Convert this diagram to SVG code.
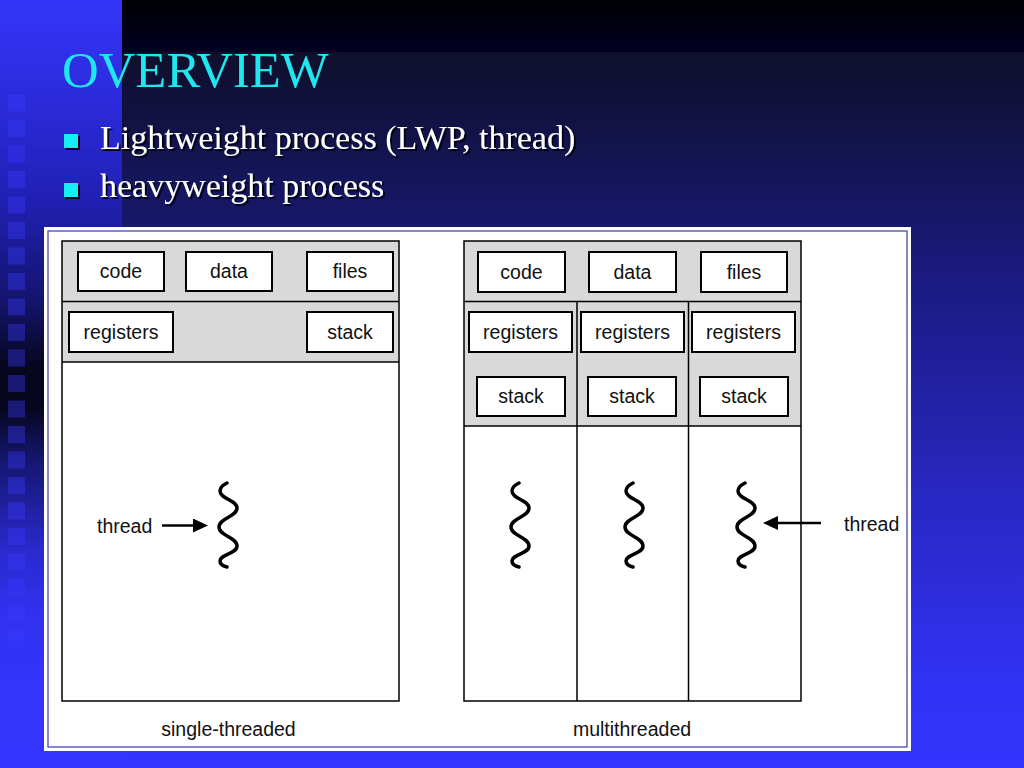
<svg xmlns="http://www.w3.org/2000/svg" width="1024" height="768" viewBox="0 0 1024 768">
<defs>
  <linearGradient id="bgR" x1="0" y1="0" x2="0" y2="768" gradientUnits="userSpaceOnUse">
    <stop offset="0" stop-color="#000006"/>
    <stop offset="0.0677" stop-color="#000022"/>
    <stop offset="0.0677" stop-color="#0f0f2c"/>
    <stop offset="0.16" stop-color="#121244"/>
    <stop offset="0.38" stop-color="#1b1b86"/>
    <stop offset="0.65" stop-color="#2828c4"/>
    <stop offset="0.9" stop-color="#3232f6"/>
    <stop offset="1" stop-color="#3434ff"/>
  </linearGradient>
  <linearGradient id="bgL" x1="0" y1="0" x2="0" y2="768" gradientUnits="userSpaceOnUse">
    <stop offset="0" stop-color="#3535f8"/>
    <stop offset="0.13" stop-color="#2b2bdc"/>
    <stop offset="0.26" stop-color="#2020b4"/>
    <stop offset="0.39" stop-color="#14146e"/>
    <stop offset="0.48" stop-color="#06061c"/>
    <stop offset="0.53" stop-color="#06061e"/>
    <stop offset="0.6" stop-color="#161670"/>
    <stop offset="0.66" stop-color="#2020a0"/>
    <stop offset="0.72" stop-color="#2a2ad0"/>
    <stop offset="0.8" stop-color="#3131ee"/>
    <stop offset="0.9" stop-color="#3434fc"/>
    <stop offset="1" stop-color="#3535ff"/>
  </linearGradient>
  <filter id="sh" x="-5%" y="-30%" width="115%" height="170%">
    <feDropShadow dx="2" dy="2" stdDeviation="0.6" flood-color="#000010" flood-opacity="0.9"/>
  </filter>
  <marker id="ah" markerUnits="userSpaceOnUse" markerWidth="16" markerHeight="15" refX="11" refY="7" orient="auto">
    <path d="M0,0 L15,7 L0,14 Z" fill="#000"/>
  </marker>
  <path id="wave" d="M-1,0 C-5,2 -8,5 -8,8 C-8,16 9,17 9,25 C9,34 -9,35 -9,44 C-9,53 9,54 9,63 C9,71 -8,71 -8,78 C-8,81 -5,83 -1,84"/>
  <rect id="sqr" width="17" height="17"/>
  <style>
    .box { fill:#fff; stroke:#000; stroke-width:2; }
    .band { fill:#d9d9d9; }
    .frame { fill:none; stroke:#000; stroke-width:1.5; }
    .ln { stroke:#000; stroke-width:1.5; fill:none; }
    .lbl { font-family:"Liberation Sans", Arial, Helvetica, sans-serif; font-size:19.5px; fill:#111; text-anchor:middle; }
    .free { font-family:"Liberation Sans", Arial, Helvetica, sans-serif; font-size:19.5px; fill:#111; }
    .wv { fill:none; stroke:#000; stroke-width:3.5; stroke-linecap:round; stroke-linejoin:round; }
    .conn { stroke:#000; stroke-width:2.5; fill:none; marker-end:url(#ah); }
    .bul { font-family:"Liberation Serif", "Times New Roman", serif; font-size:34px; fill:#fff; }
    .bsq { fill:#16eef6; }
    .lsq { fill:#3a3aff; opacity:0.38; }
  </style>
</defs>

<!-- background -->
<g id="background">
  <rect x="0" y="0" width="1024" height="768" fill="url(#bgR)"/>
  <rect x="0" y="0" width="122" height="768" fill="url(#bgL)"/>
  <g id="strip-squares">
    <use href="#sqr" class="lsq" x="8" y="94.5"/>
    <use href="#sqr" class="lsq" x="8" y="120"/>
    <use href="#sqr" class="lsq" x="8" y="145.5"/>
    <use href="#sqr" class="lsq" x="8" y="171"/>
    <use href="#sqr" class="lsq" x="8" y="196.5"/>
    <use href="#sqr" class="lsq" x="8" y="222"/>
    <use href="#sqr" class="lsq" x="8" y="247.5"/>
    <use href="#sqr" class="lsq" x="8" y="273"/>
    <use href="#sqr" class="lsq" x="8" y="298.5"/>
    <use href="#sqr" class="lsq" x="8" y="324"/>
    <use href="#sqr" class="lsq" x="8" y="349.5"/>
    <use href="#sqr" class="lsq" x="8" y="375"/>
    <use href="#sqr" class="lsq" x="8" y="400.5"/>
    <use href="#sqr" class="lsq" x="8" y="426"/>
    <use href="#sqr" class="lsq" x="8" y="451.5"/>
    <use href="#sqr" class="lsq" x="8" y="477"/>
    <use href="#sqr" class="lsq" x="8" y="502.5"/>
    <use href="#sqr" class="lsq" x="8" y="528"/>
    <use href="#sqr" class="lsq" x="8" y="553.5"/>
    <use href="#sqr" class="lsq" x="8" y="579"/>
    <use href="#sqr" class="lsq" x="8" y="604.5"/>
    <use href="#sqr" class="lsq" x="8" y="630"/>
  </g>
</g>

<!-- title and bullets -->
<g id="title">
  <text x="62" y="87" font-family="'Liberation Serif', 'Times New Roman', serif" font-size="50.8" fill="#20e6ee">OVERVIEW</text>
</g>
<g id="bullets" filter="url(#sh)">
  <rect class="bsq" x="64" y="134" width="14" height="14"/>
  <text class="bul" x="100" y="149">Lightweight process (LWP, thread)</text>
  <rect class="bsq" x="64" y="183" width="14" height="14"/>
  <text class="bul" x="100" y="197">heavyweight process</text>
</g>

<!-- white panel -->
<g id="panel">
  <rect x="44" y="227" width="867" height="524" fill="#fff"/>
  <rect x="48" y="231" width="859" height="516" fill="none" stroke="#5656aa" stroke-width="1.4"/>
</g>

<!-- single-threaded process -->
<g id="single-process">
  <rect x="62" y="241" width="337" height="460" fill="#fff"/>
  <rect class="band" x="62" y="241" width="337" height="121"/>
  <line class="ln" x1="62" y1="301.5" x2="399" y2="301.5"/>
  <line class="ln" x1="62" y1="362" x2="399" y2="362"/>
  <rect class="frame" x="62" y="241" width="337" height="460"/>
</g>
<g id="s-code"><rect class="box" x="78" y="252" width="86" height="39"/><text class="lbl" x="121" y="278">code</text></g>
<g id="s-data"><rect class="box" x="186" y="252" width="86" height="39"/><text class="lbl" x="229" y="278">data</text></g>
<g id="s-files"><rect class="box" x="307" y="252" width="86" height="39"/><text class="lbl" x="350" y="278">files</text></g>
<g id="s-registers"><rect class="box" x="69" y="312" width="104" height="40"/><text class="lbl" x="121" y="338.5">registers</text></g>
<g id="s-stack"><rect class="box" x="307" y="312" width="86" height="40"/><text class="lbl" x="350" y="338.5">stack</text></g>
<g id="s-thread"><use href="#wave" class="wv" x="228" y="483"/></g>
<g id="s-thread-label"><text class="free" x="97" y="533">thread</text></g>
<g id="s-caption"><text class="lbl" x="228.5" y="736">single-threaded</text></g>

<!-- multithreaded process -->
<g id="multi-process">
  <rect x="464" y="241" width="337" height="460" fill="#fff"/>
  <rect class="band" x="464" y="241" width="337" height="185"/>
  <line class="ln" x1="464" y1="301.5" x2="801" y2="301.5"/>
  <line class="ln" x1="464" y1="426" x2="801" y2="426"/>
  <line class="ln" x1="577" y1="301.5" x2="577" y2="701"/>
  <line class="ln" x1="688.5" y1="301.5" x2="688.5" y2="701"/>
  <rect class="frame" x="464" y="241" width="337" height="460"/>
</g>
<g id="m-code"><rect class="box" x="478" y="252" width="87" height="40"/><text class="lbl" x="521.5" y="278.5">code</text></g>
<g id="m-data"><rect class="box" x="589" y="252" width="87" height="40"/><text class="lbl" x="632.5" y="278.5">data</text></g>
<g id="m-files"><rect class="box" x="701" y="252" width="86" height="40"/><text class="lbl" x="744" y="278.5">files</text></g>
<g id="m-registers-1"><rect class="box" x="469" y="312" width="103" height="40"/><text class="lbl" x="520.5" y="338.5">registers</text></g>
<g id="m-registers-2"><rect class="box" x="581" y="312" width="103" height="40"/><text class="lbl" x="632.5" y="338.5">registers</text></g>
<g id="m-registers-3"><rect class="box" x="692" y="312" width="103" height="40"/><text class="lbl" x="743.5" y="338.5">registers</text></g>
<g id="m-stack-1"><rect class="box" x="477" y="377" width="88" height="39"/><text class="lbl" x="521" y="403">stack</text></g>
<g id="m-stack-2"><rect class="box" x="588" y="377" width="88" height="39"/><text class="lbl" x="632" y="403">stack</text></g>
<g id="m-stack-3"><rect class="box" x="700" y="377" width="88" height="39"/><text class="lbl" x="744" y="403">stack</text></g>
<g id="m-thread-1"><use href="#wave" class="wv" x="520" y="483"/></g>
<g id="m-thread-2"><use href="#wave" class="wv" x="634" y="483"/></g>
<g id="m-thread-3"><use href="#wave" class="wv" x="746" y="483"/></g>
<g id="m-thread-label"><text class="free" x="844" y="531">thread</text></g>
<g id="m-caption"><text class="lbl" x="632" y="736">multithreaded</text></g>

<!-- connectors -->
<g id="connectors">
  <path class="conn" d="M162,525.5 L204,525.5"/>
  <path class="conn" d="M821,523 L767,523"/>
</g>
</svg>
